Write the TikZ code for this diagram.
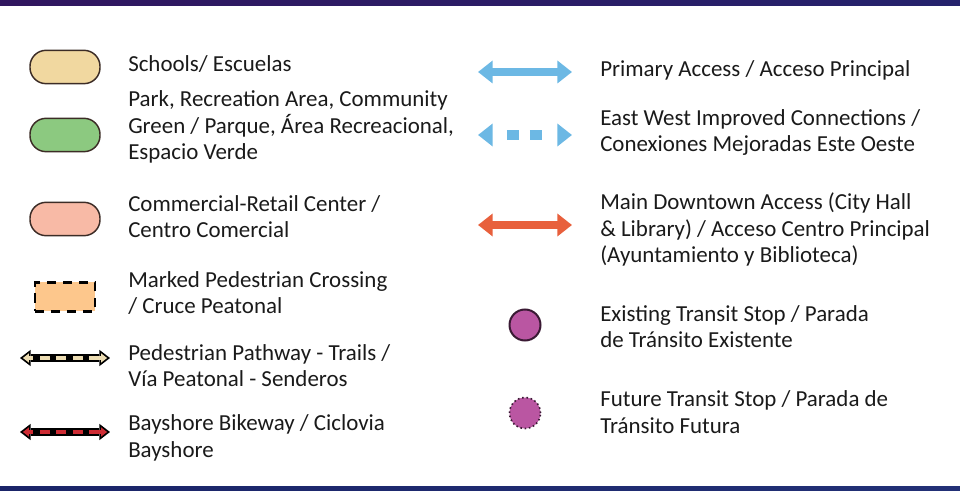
\documentclass[tikz,border=0pt]{standalone}
\usepackage{fontspec}
\setmainfont{Carlito}
\usetikzlibrary{arrows.meta}
\definecolor{barTopL}{RGB}{49,22,95}
\definecolor{barTopR}{RGB}{37,34,108}
\definecolor{barBotL}{RGB}{26,36,104}
\definecolor{barBotR}{RGB}{34,48,118}
\definecolor{inkText}{RGB}{26,26,26}
\definecolor{pillEdge}{RGB}{60,44,38}
\definecolor{schoolFill}{RGB}{241,216,160}
\definecolor{parkFill}{RGB}{140,201,128}
\definecolor{shopFill}{RGB}{248,186,166}
\definecolor{crossFill}{RGB}{253,199,140}
\definecolor{trailFill}{RGB}{236,220,178}
\definecolor{bikeFill}{RGB}{206,44,52}
\definecolor{accessBlue}{RGB}{108,184,228}
\definecolor{downtownOrange}{RGB}{232,96,60}
\definecolor{stopFill}{RGB}{186,86,162}
\definecolor{stopEdge}{RGB}{58,26,52}
\begin{document}
\begin{tikzpicture}[x=0.75pt,y=-0.75pt,
    legendtext/.style={anchor=base west,inner sep=0pt,align=left,text=inkText,
      font=\fontsize{17.2pt}{19.9pt}\selectfont},
    pill/.style={draw=pillEdge,line width=1.1pt,rounded corners=12pt,
      minimum width=52.5pt,minimum height=25pt,inner sep=0pt},
    crossbox/.style={draw=black,fill=crossFill,line width=2.2pt,
      dash pattern=on 7pt off 5pt,minimum width=45pt,minimum height=21.75pt,inner sep=0pt},
    access/.style={line width=5.8pt,
      {Triangle[width=16.5pt,length=11pt]}-{Triangle[width=16.5pt,length=11pt]}},
    ewaccess/.style={accessBlue,line width=8pt,
      dash pattern=on 0pt off 11.25pt on 9pt off 8.25pt on 9pt off 40pt,
      {Triangle[width=16.5pt,length=11pt]}-{Triangle[width=16.5pt,length=11pt]}},
    pathtip/.style={line width=1.2pt,
      {Triangle[width=12pt,length=8pt,fill=#1]}-{Triangle[width=12pt,length=8pt,fill=#1]}},
    pathedge/.style={black,line width=5.8pt,shorten <=8pt,shorten >=8pt},
    pathfill/.style={#1,line width=3.4pt,shorten <=6.5pt,shorten >=6.5pt},
    pathdash/.style={black,line width=3.4pt,shorten <=10pt,shorten >=10pt,
      dash pattern=on 4.8pt off 7.5pt},
    stop/.style={circle,fill=stopFill,draw=stopEdge,minimum size=23.25pt,inner sep=0pt}]
  \useasboundingbox (0,0) rectangle (960,491);
  \fill[left color=barTopL,right color=barTopR] (0,0) rectangle (960,6);
  \fill[left color=barBotL,right color=barBotR] (0,486) rectangle (960,491);

  \node[pill,fill=schoolFill] (school) at (65,67) {};
  \node[pill,fill=parkFill] (park) at (65,135) {};
  \node[pill,fill=shopFill] (shop) at (65,219) {};
  \node[crossbox] (cross) at (65,297) {};
  \coordinate (trailL) at (20,358);
  \coordinate (trailR) at (110,358);
  \coordinate (bikeL) at (20,432);
  \coordinate (bikeR) at (110,432);

  \draw[pathtip=trailFill] (trailL) -- (trailR);
  \draw[pathedge] (trailL) -- (trailR);
  \draw[pathfill=trailFill] (trailL) -- (trailR);
  \draw[pathdash] (trailL) -- (trailR);
  \draw[pathtip=bikeFill] (bikeL) -- (bikeR);
  \draw[pathedge] (bikeL) -- (bikeR);
  \draw[pathfill=bikeFill] (bikeL) -- (bikeR);
  \draw[pathdash] (bikeL) -- (bikeR);

  \node[legendtext] (schoolTxt) at (128,72) {Schools/ Escuelas};
  \node[legendtext] (parkTxt) at (128,160) {Park, Recreation Area, Community\\Green / Parque, Área Recreacional,\\Espacio Verde};
  \node[legendtext] (shopTxt) at (128,238) {Commercial-Retail Center /\\Centro Comercial};
  \node[legendtext] (crossTxt) at (128,314) {Marked Pedestrian Crossing\\/ Cruce Peatonal};
  \node[legendtext] (trailTxt) at (128,387) {Pedestrian Pathway - Trails /\\Vía Peatonal - Senderos};
  \node[legendtext] (bikeTxt) at (128,457) {Bayshore Bikeway / Ciclovia\\Bayshore};

  \coordinate (primL) at (478,72);
  \coordinate (primR) at (572,72);
  \coordinate (ewL) at (478,135);
  \coordinate (ewR) at (572,135);
  \coordinate (downL) at (478,225);
  \coordinate (downR) at (572,225);
  \draw[access,accessBlue] (primL) -- (primR);
  \draw[ewaccess] (ewL) -- (ewR);
  \draw[access,downtownOrange] (downL) -- (downR);
  \node[stop,line width=1.5pt] (nowStop) at (525,325) {};
  \node[stop,line width=1.2pt,dotted] (newStop) at (525,413) {};

  \node[legendtext] (primTxt) at (600,77) {Primary Access / Acceso Principal};
  \node[legendtext] (ewTxt) at (600,152) {East West Improved Connections /\\Conexiones Mejoradas Este Oeste};
  \node[legendtext] (downTxt) at (600,263) {Main Downtown Access (City Hall\\\& Library) / Acceso Centro Principal\\(Ayuntamiento y Biblioteca)};
  \node[legendtext] (nowTxt) at (600,348) {Existing Transit Stop / Parada\\de Tránsito Existente};
  \node[legendtext] (newTxt) at (600,433) {Future Transit Stop / Parada de\\Tránsito Futura};
\end{tikzpicture}
\end{document}
